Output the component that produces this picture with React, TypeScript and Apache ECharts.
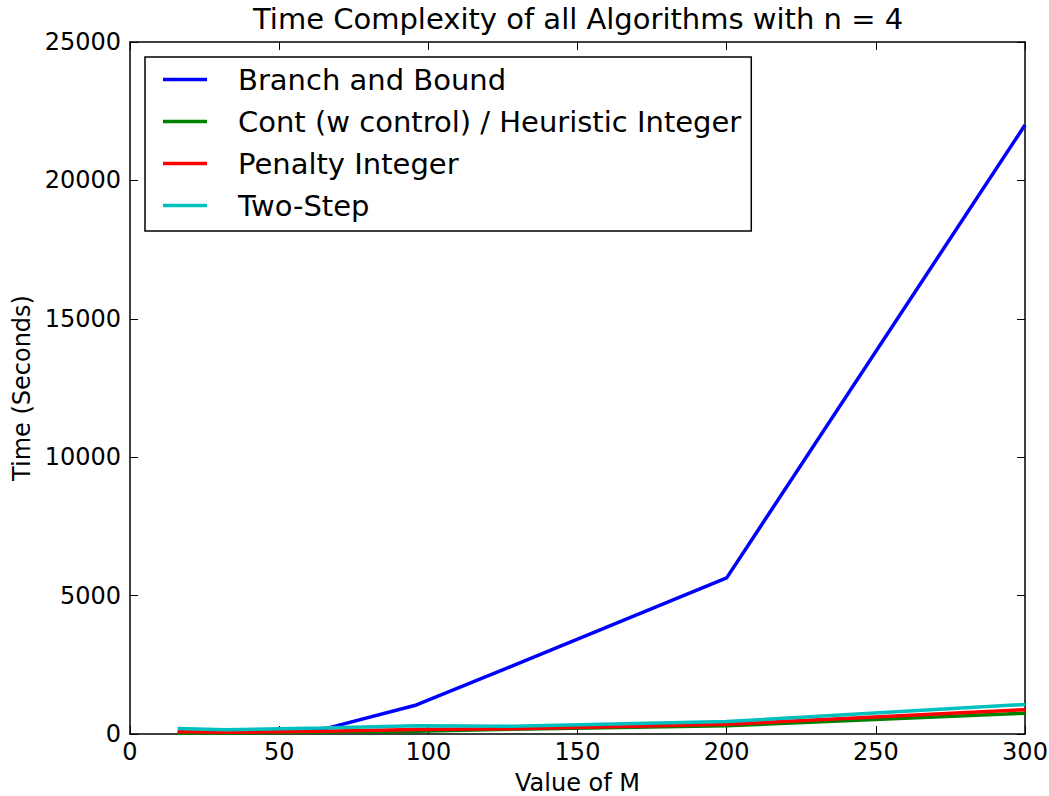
import React, { useEffect, useRef } from "react";
import * as echarts from "echarts";

const mValues = [16, 32, 64, 96, 128, 200, 300];
const branchAndBound = [50, 60, 150, 1050, 2450, 5640, 22000];
const contHeuristic = [30, 40, 60, 100, 170, 300, 750];
const penaltyInteger = [80, 60, 100, 160, 190, 350, 880];
const twoStep = [200, 150, 220, 300, 280, 450, 1070];
const seriesNames = [
  "Branch and Bound",
  "Cont (w control) / Heuristic Integer",
  "Penalty Integer",
  "Two-Step",
];
const seriesColors = ["#0000ff", "#008000", "#ff0000", "#00bfbf"];
const xTicks = { min: 0, max: 300, interval: 50 };
const yTicks = { min: 0, max: 25000, interval: 5000 };

const FONT = "DejaVu Sans";

function axisLine() {
  return { show: true, onZero: false, lineStyle: { color: "#000", width: 1.5 } };
}
function axisTick() {
  return { show: true, inside: true, length: 8, lineStyle: { color: "#000", width: 1 } };
}

export default function App() {
  const ref = useRef<HTMLDivElement>(null);
  useEffect(() => {
    if (!ref.current) return;
    const chart = echarts.init(ref.current, undefined, { renderer: "svg" });
    const allData = [branchAndBound, contHeuristic, penaltyInteger, twoStep];
    chart.setOption({
      animation: false,
      backgroundColor: "#fff",
      textStyle: { fontFamily: FONT },
      title: {
        text: "Time Complexity of all Algorithms with n = 4",
        left: 253,
        top: 4,
        padding: 0,
        textStyle: { fontFamily: FONT, fontSize: 29, fontWeight: "normal", color: "#000" },
      },
      legend: {
        orient: "vertical",
        left: 145,
        top: 57,
        padding: [8, 10, 11, 18],
        itemWidth: 44,
        itemHeight: 3.5,
        itemGap: 13,
        icon: "rect",
        borderColor: "#000",
        borderWidth: 1.5,
        backgroundColor: "#fff",
        textStyle: { fontFamily: FONT, fontSize: 29, color: "#000", lineHeight: 29, padding: [0, 0, 0, 26] },
        data: seriesNames,
      },
      grid: {
        left: 130,
        right: 24,
        top: 42,
        bottom: 62,
        containLabel: false,
        outerBoundsMode: "none",
      },
      xAxis: [
        {
          type: "value",
          min: xTicks.min,
          max: xTicks.max,
          interval: xTicks.interval,
          name: "Value of M",
          nameLocation: "middle",
          nameGap: 37,
          nameTextStyle: { fontFamily: FONT, fontSize: 24, color: "#000" },
          axisLine: axisLine(),
          axisTick: axisTick(),
          axisLabel: { fontFamily: FONT, fontSize: 24, color: "#000", margin: 6 },
          splitLine: { show: false },
        },
        {
          type: "value",
          position: "top",
          min: xTicks.min,
          max: xTicks.max,
          interval: xTicks.interval,
          axisLine: axisLine(),
          axisTick: axisTick(),
          axisLabel: { show: false },
          splitLine: { show: false },
        },
      ],
      yAxis: [
        {
          type: "value",
          min: yTicks.min,
          max: yTicks.max,
          interval: yTicks.interval,
          name: "Time (Seconds)",
          nameLocation: "middle",
          nameGap: 93,
          nameTextStyle: { fontFamily: FONT, fontSize: 24, color: "#000" },
          axisLine: axisLine(),
          axisTick: axisTick(),
          axisLabel: {
            fontFamily: FONT,
            fontSize: 24,
            color: "#000",
            margin: 9,
            formatter: (v: number) => String(v),
          },
          splitLine: { show: false },
        },
        {
          type: "value",
          position: "right",
          min: yTicks.min,
          max: yTicks.max,
          interval: yTicks.interval,
          axisLine: axisLine(),
          axisTick: axisTick(),
          axisLabel: { show: false },
          splitLine: { show: false },
        },
      ],
      series: seriesNames.map((name, i) => ({
        name,
        type: "line",
        xAxisIndex: 0,
        yAxisIndex: 0,
        data: mValues.map((m, j) => [m, allData[i][j]]),
        showSymbol: false,
        symbol: "none",
        lineStyle: { color: seriesColors[i], width: 3.5 },
        itemStyle: { color: seriesColors[i] },
        z: 2 + i,
      })),
    });
    return () => chart.dispose();
  }, []);
  return (
    <div
      ref={ref}
      style={{ position: "fixed", left: 0, top: 0, width: 1049, height: 796 }}
    />
  );
}
